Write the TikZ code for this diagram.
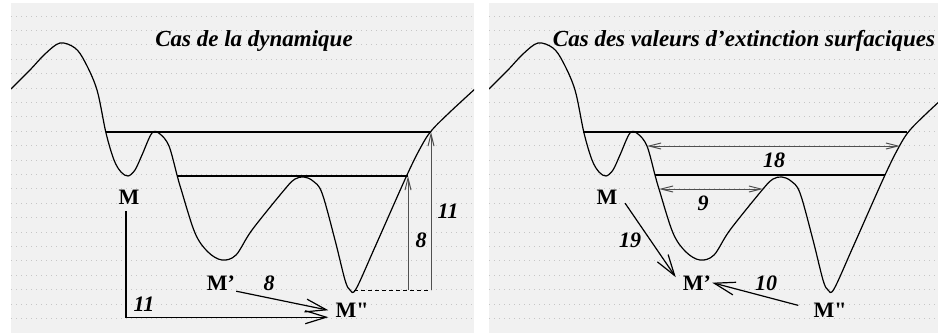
\documentclass[tikz,border=0pt]{standalone}
\usepackage{fontspec}
\setmainfont{Liberation Serif}[Ligatures=TeXOff]
\usepackage{xcolor}
\usetikzlibrary{arrows.meta}
\definecolor{panelFill}{HTML}{F1F1F1}
\definecolor{dotGray}{HTML}{C6C6C6}
\definecolor{dimGray}{HTML}{505050}

% relief profile, shared by both panels (pixel units)
\newcommand\reliefpath{plot[smooth, tension=0.55] coordinates {
  (11,89) (30,70) (45,54) (60,43) (75,48) (85,62) (97,90) (106,133)
  (114,160) (121,172) (128,176) (135,170) (142,155) (152,133) (160,134)
  (169,146) (177,175) (181,189) (195,233) (208,252) (222,260) (236,255)
  (252,230) (285,189) (295,179) (304,177) (313,181) (322,193) (335,240)
  (345,280) (350,290) (356,289) (375,247) (407,175) (422,145) (432,130)
  (450,112) (476,88)}}

\begin{document}
\begin{tikzpicture}[
    x=1pt, y=-1pt,
    panel/.style={fill=panelFill, draw=none},
    dotrow/.style={draw=dotGray, line width=0.8pt, dash pattern=on 0.8pt off 4.2pt},
    relief/.style={draw=black, line width=1.2pt},
    lake/.style={draw=black, line width=2.8pt},
    title/.style={anchor=base, inner sep=1pt, font=\fontsize{23}{25}\selectfont\bfseries\itshape},
    lbl/.style={anchor=base, inner sep=1pt, font=\fontsize{22}{24}\selectfont\bfseries},
    num/.style={anchor=base, inner sep=1pt, font=\fontsize{22}{24}\selectfont\bfseries\itshape},
    flow/.style={-{Straight Barb[length=21pt, width=13pt]}, draw=black, line width=1.2pt},
    dim/.style={-{Straight Barb[length=12pt, width=6pt]}, draw=dimGray, line width=1pt},
    ddim/.style={{Straight Barb[length=12pt, width=6pt]}-{Straight Barb[length=12pt, width=6pt]}, draw=dimGray, line width=1pt},
    foot/.style={draw=black, line width=1pt, dash pattern=on 4pt off 3pt},
  ]
\useasboundingbox (0,0) rectangle (938,333);

% ===== PANEL left — dynamique =====
\fill[panel] (11,3) rectangle (474,333);
\foreach \k in {0,...,21}
  \draw[dotrow] (11,{16+14.4*\k}) -- (474,{16+14.4*\k});
\begin{scope}
  \clip (11,3) rectangle (474,333);
  \draw[relief] \reliefpath;
\end{scope}

\coordinate (lHiL) at (106,132);
\coordinate (lHiR) at (431,132);
\coordinate (lLoL) at (177,176);
\coordinate (lLoR) at (408,176);
\coordinate (lLow) at (354,290);
\coordinate (lFootA) at (408,290);
\coordinate (lFootB) at (431,290);
\draw[lake] (lHiL) -- (lHiR);
\draw[lake] (lLoL) -- (lLoR);

\node[title] (lTitle) at (254,46) {Cas de la dynamique};
\node[lbl] (lM) at (129,204) {M};
\node[lbl] (lMp) at (221,290) {M’};
\node[lbl] (lMpp) at (352,317) {M"};
\node[num] (lEightA) at (269,290) {8};
\node[num] (lElevenA) at (144,311) {11};
\node[num] (lEightB) at (421,247) {8};
\node[num] (lElevenB) at (448,218) {11};

% Arrows
\draw[foot] (lLow) -- (lFootB);
\draw[dim] (lFootA) -- (lLoR);
\draw[dim] (lFootB) -- (lHiR);
\draw[flow] ([shift={(-3,6)}]lM.south) |- ([shift={(-6,-1)}]lMpp.south west);
\draw[flow] (lMp.south east) -- ([shift={(-6,-8)}]lMpp.south west);

% ===== PANEL right — extinction surfacique =====
\fill[panel] (489,3) rectangle (938,333);
\foreach \k in {0,...,21}
  \draw[dotrow] (489,{16+14.4*\k}) -- (938,{16+14.4*\k});
\begin{scope}
  \clip (489,3) rectangle (938,333);
  \begin{scope}[shift={(478,0)}]
    \draw[relief] \reliefpath;
  \end{scope}
\end{scope}

\coordinate (rHiL) at (583,132);
\coordinate (rHiR) at (907,132);
\coordinate (rLoL) at (655,175);
\coordinate (rLoR) at (885,175);
\coordinate (rWideL) at (647,146);
\coordinate (rWideR) at (900,146);
\coordinate (rNarL) at (659,189);
\coordinate (rNarR) at (763,189);
\draw[lake] (rHiL) -- (rHiR);
\draw[lake] (rLoL) -- (rLoR);

\node[title] (rTitle) at (744,46) {Cas des valeurs d’extinction surfaciques};
\node[lbl] (rM) at (607,204) {M};
\node[lbl] (rMp) at (697,290) {M’};
\node[lbl] (rMpp) at (830,317) {M"};
\node[num] (rNineteen) at (630,247) {19};
\node[num] (rTen) at (766,290) {10};
\node[num] (rNine) at (703,210) {9};
\node[num] (rEighteen) at (774,167) {18};

% Arrows
\draw[ddim] (rWideL) -- (rWideR);
\draw[ddim] (rNarL) -- (rNarR);
\draw[flow] ([shift={(6.5,-2)}]rM.south east) -- ([shift={(-6,3)}]rMp.north west);
\draw[flow] ([shift={(-14,4)}]rMpp.north west) -- (rMp.east);

\end{tikzpicture}
\end{document}
